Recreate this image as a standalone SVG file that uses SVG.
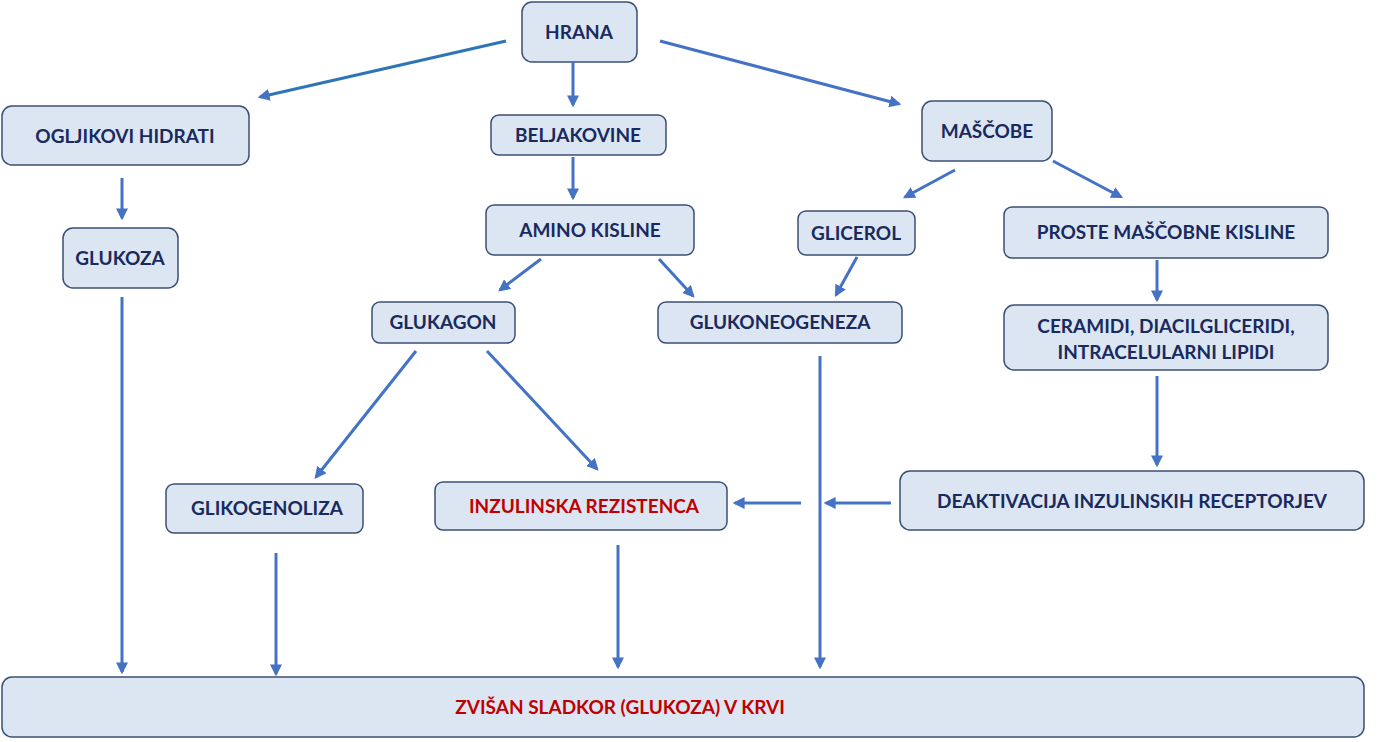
<svg xmlns="http://www.w3.org/2000/svg" width="1379" height="742" viewBox="0 0 1379 742">
<style>
.n rect{fill:#dce6f2;stroke:#3b4f75;stroke-width:1.5}
.n text{font-family:Lato,"Liberation Sans",sans-serif;font-weight:bold;font-size:19px;fill:#1a2a5e;text-anchor:middle}
.n text.r{fill:#c00000}
#edges line{stroke:#4472c4;stroke-width:3;marker-end:url(#a)}
</style>
<defs><marker id="a" viewBox="0 0 10 10" refX="8" refY="5" markerWidth="4" markerHeight="4" orient="auto"><path d="M0,0L10,5L0,10z" fill="#4472c4"/></marker></defs>
<rect width="1379" height="742" fill="#fff"/>
<g class="n" id="hrana"><rect x="522" y="2" width="115" height="60" rx="10"/><text x="579" y="39">HRANA</text></g>
<g class="n" id="oh"><rect x="2" y="106" width="247" height="59" rx="10"/><text x="125" y="143">OGLJIKOVI HIDRATI</text></g>
<g class="n" id="belj"><rect x="491" y="115" width="175" height="40" rx="8"/><text x="578" y="142">BELJAKOVINE</text></g>
<g class="n" id="mas"><rect x="922" y="101" width="130" height="60" rx="10"/><text x="987" y="138">MAŠČOBE</text></g>
<g class="n" id="glukoza"><rect x="63" y="228" width="115" height="60" rx="10"/><text x="120" y="265">GLUKOZA</text></g>
<g class="n" id="amino"><rect x="486" y="205" width="208" height="50" rx="8"/><text x="590" y="237">AMINO KISLINE</text></g>
<g class="n" id="glicerol"><rect x="798" y="211" width="117" height="44" rx="8"/><text x="856" y="240">GLICEROL</text></g>
<g class="n" id="proste"><rect x="1004" y="207" width="324" height="51" rx="8"/><text x="1166" y="239">PROSTE MAŠČOBNE KISLINE</text></g>
<g class="n" id="glukagon"><rect x="372" y="302" width="143" height="41" rx="8"/><text x="443" y="329">GLUKAGON</text></g>
<g class="n" id="glukoneo"><rect x="658" y="302" width="244" height="41" rx="8"/><text x="780" y="329">GLUKONEOGENEZA</text></g>
<g class="n" id="ceramidi"><rect x="1004" y="305" width="324" height="65" rx="10"/><text x="1166" y="333">CERAMIDI, DIACILGLICERIDI,</text><text x="1166" y="359">INTRACELULARNI LIPIDI</text></g>
<g class="n" id="gliko"><rect x="166" y="484" width="197" height="49" rx="8"/><text x="267" y="515">GLIKOGENOLIZA</text></g>
<g class="n" id="inz"><rect x="435" y="482" width="292" height="48" rx="8"/><text class="r" x="584" y="513">INZULINSKA REZISTENCA</text></g>
<g class="n" id="deakt"><rect x="900" y="471" width="464" height="59" rx="10"/><text x="1132" y="508">DEAKTIVACIJA INZULINSKIH RECEPTORJEV</text></g>
<g class="n" id="zvisan"><rect x="2" y="677" width="1362" height="60" rx="10"/><text class="r" x="620" y="714">ZVIŠAN SLADKOR (GLUKOZA) V KRVI</text></g>
<g id="edges">
<line x1="506" y1="41" x2="260" y2="97" style="stroke:#2e75b6"/>
<line x1="573" y1="62" x2="573" y2="105"/>
<line x1="660" y1="41" x2="899" y2="104"/>
<line x1="122" y1="178" x2="122" y2="218"/>
<line x1="573" y1="157" x2="573" y2="198"/>
<line x1="955" y1="170" x2="905" y2="197"/>
<line x1="1053" y1="161" x2="1121" y2="197"/>
<line x1="541" y1="259" x2="500" y2="290"/>
<line x1="659" y1="259" x2="693" y2="296"/>
<line x1="857" y1="257" x2="836" y2="295"/>
<line x1="1157" y1="260" x2="1157" y2="300"/>
<line x1="1157" y1="376" x2="1157" y2="465"/>
<line x1="416" y1="351" x2="316" y2="477"/>
<line x1="487" y1="351" x2="597" y2="469"/>
<line x1="891" y1="503" x2="826" y2="503"/>
<line x1="801" y1="503" x2="735" y2="503"/>
<line x1="820" y1="356" x2="820" y2="667"/>
<line x1="122" y1="297" x2="122" y2="672"/>
<line x1="276" y1="553" x2="276" y2="674"/>
<line x1="618" y1="545" x2="618" y2="667"/>
</g>
</svg>
